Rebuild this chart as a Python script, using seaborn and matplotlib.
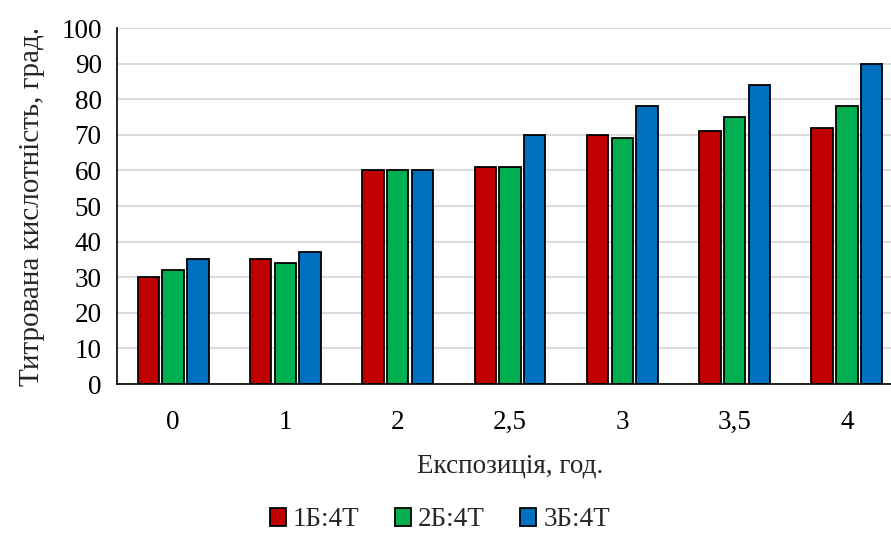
import matplotlib
matplotlib.use("Agg")
import matplotlib.pyplot as plt
import seaborn as sns
import pandas as pd

categories = ["0", "1", "2", "2,5", "3", "3,5", "4"]
series_names = ["1Б:4Т", "2Б:4Т", "3Б:4Т"]
s1 = [30, 35, 60, 61, 70, 71, 72]
s2 = [32, 34, 60, 61, 69, 75, 78]
s3 = [35, 37, 60, 70, 78, 84, 90]
colors = ["#C00000", "#00B050", "#0070C0"]

rows = []
for name, vals in zip(series_names, [s1, s2, s3]):
    for c, v in zip(categories, vals):
        rows.append({"cat": c, "val": v, "series": name})
df = pd.DataFrame(rows)

sns.set_style("white")
plt.rcParams["font.family"] = ["Liberation Serif", "DejaVu Serif"]

fig = plt.figure(figsize=(8.91, 5.45), dpi=100)
ax = fig.add_axes([117 / 891, 1 - 384 / 545, (903 - 117) / 891, (384 - 28) / 545])

sns.barplot(data=df, x="cat", y="val", hue="series", order=categories,
            hue_order=series_names, palette=colors, saturation=1, width=0.66, gap=0.13,
            edgecolor="black", linewidth=1.3, ax=ax, legend=True)

ax.set_ylim(0, 100)
ax.set_xlim(-0.5, 6.5)
ax.set_yticks(range(0, 101, 10))
ax.yaxis.grid(True, color="#D9D9D9", linewidth=1.3)
ax.set_axisbelow(True)
for s in ["top", "right"]:
    ax.spines[s].set_visible(False)
for s in ["left", "bottom"]:
    ax.spines[s].set_color("black")
    ax.spines[s].set_linewidth(1.2)
ax.tick_params(axis="both", length=0, labelsize=19.5, colors="black")
ax.tick_params(axis="x", pad=19)
ax.tick_params(axis="y", pad=11)
ax.set_xlabel("Експозиція, год.", fontsize=19.5, labelpad=13)
ax.set_ylabel("Титрована кислотність, град.", fontsize=21, labelpad=12)

handles, labels = ax.get_legend_handles_labels()
ax.legend_.remove()
fig.legend(handles, labels, loc="center", bbox_to_anchor=(440 / 891, 1 - 520 / 545),
           ncol=3, frameon=False, fontsize=19.5, handlelength=0.6, handleheight=0.6,
           handletextpad=0.25, columnspacing=1.3)

fig.savefig("out.png", dpi=100)
